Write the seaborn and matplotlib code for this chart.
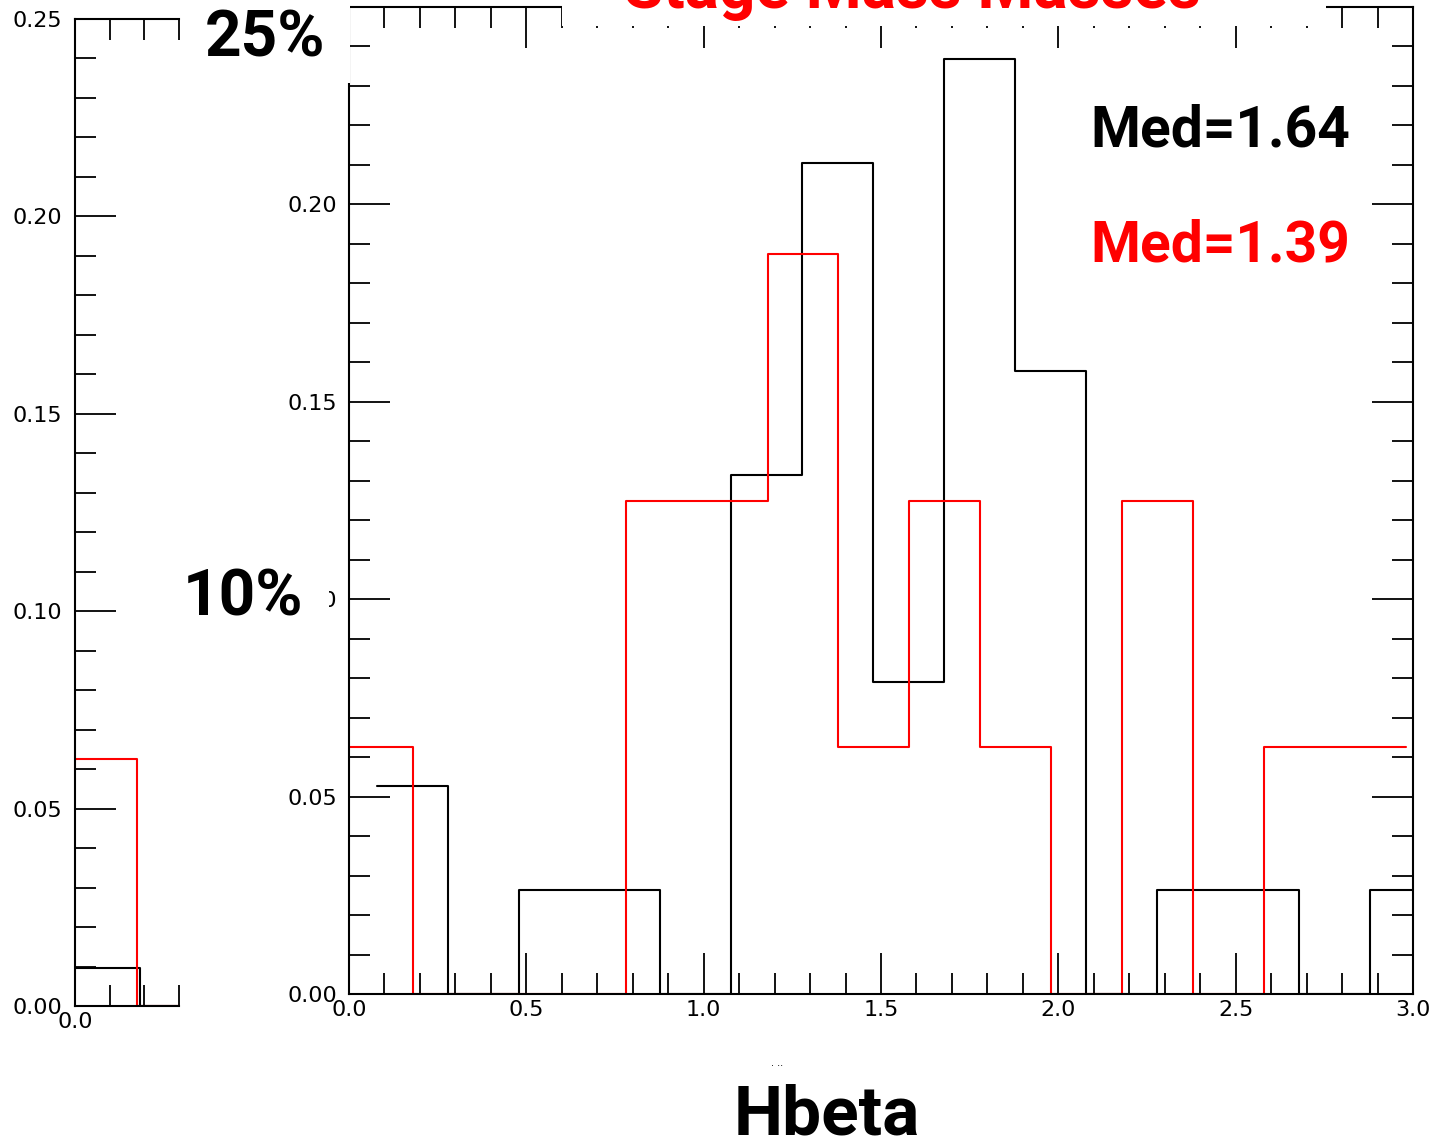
import matplotlib
matplotlib.use("Agg")
import matplotlib.pyplot as plt
from matplotlib.patches import Rectangle
from matplotlib.ticker import MultipleLocator
import numpy as np
import seaborn as sns

# ---- data -------------------------------------------------------------
# main panel: step histograms (bin edges and fraction per bin)
black_edges = [0.078, 0.278, 0.478, 0.678, 0.878, 1.078, 1.278, 1.478,
               1.678, 1.878, 2.078, 2.278, 2.478, 2.678, 2.878, 3.078]
black_counts = [2, 0, 1, 1, 0, 5, 8, 3, 9, 6, 0, 1, 1, 0, 1]
black_total = 38

red_edges = [-0.02, 0.18, 0.38, 0.58, 0.78, 0.98, 1.18, 1.38,
             1.58, 1.78, 1.98, 2.18, 2.38, 2.58, 2.78, 2.98]
red_counts = [1, 0, 0, 0, 2, 2, 3, 1, 2, 1, 0, 2, 0, 1, 1]
red_total = 16

# small left panel
side_black_edges = [-0.012, 0.188, 0.388]
side_black_fracs = [0.0096, 0.0]
side_red_edges = [-0.02, 0.18, 0.38]
side_red_fracs = [0.0625, 0.0]

med_black = "Med=1.64"
med_red = "Med=1.39"
title_text = "Stage Mass Masses"
xlabel_text = "Hbeta"
pct_top = "25%"
pct_mid = "10%"

# ---- figure -----------------------------------------------------------
sns.set_theme(style="white")
plt.rcParams["font.family"] = ["DejaVu Sans"]

W, H = 1438, 1146
fig = plt.figure(figsize=(W / 100, H / 100), dpi=100)


def px_axes(left, right, top, bottom):
    return fig.add_axes([left / W, 1 - bottom / H, (right - left) / W, (bottom - top) / H])


def step_line(ax, edges, fracs, color):
    # horizontal runs for each bin, no closing verticals at the ends
    xs = list(edges)
    ys = list(fracs) + [fracs[-1]]
    sns.lineplot(x=xs, y=ys, ax=ax, color=color, lw=1.5,
                 drawstyle="steps-post", estimator=None, sort=False)


def style_axes(ax, right=True):
    for sp in ax.spines.values():
        sp.set_linewidth(1.5)
        sp.set_color("black")
    ax.xaxis.set_major_locator(MultipleLocator(0.5))
    ax.xaxis.set_minor_locator(MultipleLocator(0.1))
    ax.yaxis.set_major_locator(MultipleLocator(0.05))
    ax.yaxis.set_minor_locator(MultipleLocator(0.01))
    ax.tick_params(which="both", direction="in", top=True, bottom=True,
                   left=True, right=right, width=1.3, color="black",
                   labelsize=16, labelcolor="black")
    ax.tick_params(which="major", length=29.5)
    ax.tick_params(which="minor", length=15)
    ax.tick_params(axis="x", which="both", pad=4)
    ax.tick_params(axis="y", which="both", pad=8.5)
    ax.set_xlabel("")
    ax.set_ylabel("")
    ax.grid(False)


# main histogram panel
main = px_axes(349, 1413, 7, 994)
black_fracs = [c / black_total for c in black_counts]
red_fracs = [c / red_total for c in red_counts]
step_line(main, black_edges, black_fracs, "black")
step_line(main, red_edges, red_fracs, "#ff0000")
main.set_xlim(0, 3.0)
main.set_ylim(0, 0.25)
style_axes(main)

# small left panel
side = px_axes(75, 179, 19, 1006)
step_line(side, side_black_edges, side_black_fracs, "black")
step_line(side, side_red_edges, side_red_fracs, "#ff0000")
side.set_xlim(0, 0.3)
side.set_ylim(0, 0.25)
style_axes(side, right=False)
side.spines["right"].set_visible(False)
side.tick_params(axis="x", which="both", pad=4.5)
side.tick_params(axis="y", which="both", pad=9)


# white label backgrounds
def white_box(x0, y0, x1, y1):
    fig.add_artist(Rectangle((x0 / W, 1 - y1 / H), (x1 - x0) / W, (y1 - y0) / H,
                             transform=fig.transFigure, facecolor="white",
                             edgecolor="none", zorder=5))


white_box(562, 0, 1326, 26)
white_box(190, 0, 350.2, 83)
white_box(170, 560, 329, 640)

big = dict(family=["Roboto", "DejaVu Sans"], weight="bold", zorder=6)

fig.text(912 / W, 1 - 8 / H, title_text, color="#ff0000", fontsize=46,
         ha="center", va="baseline", **big)
fig.text(265 / W, 1 - 39 / H, pct_top, color="black", fontsize=46,
         ha="center", va="center", **big)
fig.text(243 / W, 1 - 598 / H, pct_mid, color="black", fontsize=46,
         ha="center", va="center", **big)
fig.text(1090 / W, 1 - 131 / H, med_black, color="black", fontsize=41,
         ha="left", va="center", **big)
fig.text(1090 / W, 1 - 246 / H, med_red, color="#ff0000", fontsize=41,
         ha="left", va="center", **big)
fig.text(827 / W, 1 - 1116 / H, xlabel_text, color="black", fontsize=50,
         ha="center", va="center", **big)
fig.text(777 / W, 1 - 1063 / H, ". ..", color="black", fontsize=7,
         ha="center", va="center", zorder=6)

fig.savefig("out.png", dpi=100, facecolor="white")
